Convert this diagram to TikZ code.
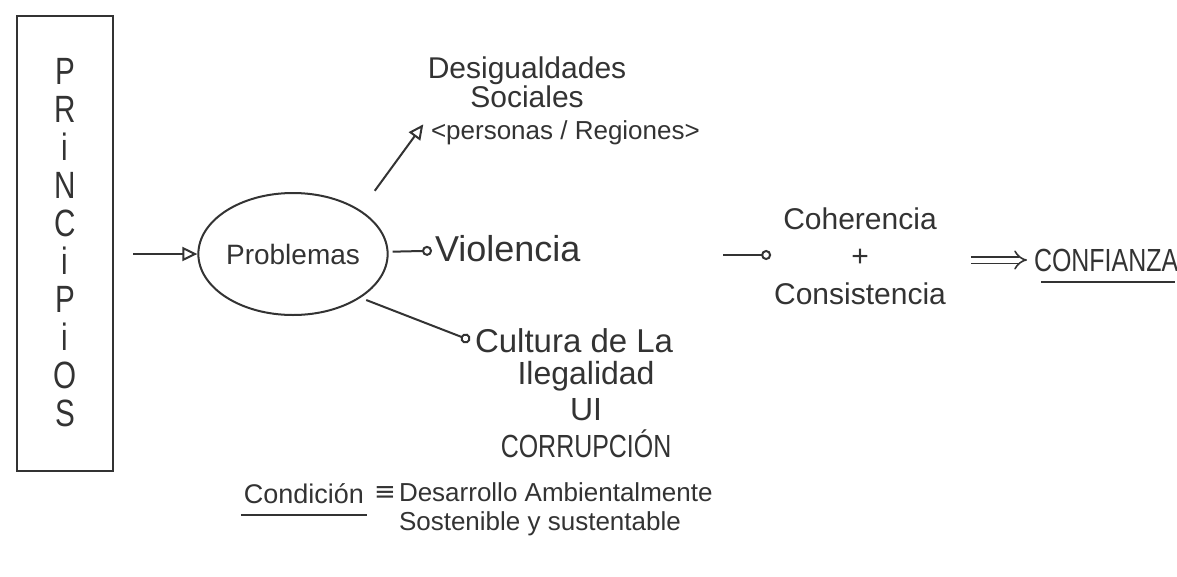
\documentclass[tikz,border=0pt]{standalone}
\usepackage{fontspec}
\setmainfont{Liberation Sans}
\newfontfamily\capsfont[FakeStretch=0.78]{Liberation Sans}
\newfontfamily\symfont{DejaVu Sans}
\usetikzlibrary{arrows.meta,positioning,shapes.geometric}

\begin{document}
\begin{tikzpicture}[
  x=1pt, y=-1pt,
  color=black!80,
  line width=2pt,
  hand/.style={align=center, inner sep=2pt, font=\fontsize{30}{36}\selectfont},
  handS/.style={align=center, inner sep=2pt, font=\fontsize{26}{29}\selectfont},
  caps/.style={align=center, inner sep=2pt, font=\capsfont\fontsize{32}{36}\selectfont},
  tri/.style={-{Triangle[open, length=15pt, width=14pt]}},
  circ/.style={-{Circle[open, length=10pt]}},
  dbl/.style={double, double distance=5pt, line width=1.6pt, -{Implies}}
]
\useasboundingbox (0,0) rectangle (1177,576);

% Nodes
\node[draw, minimum width=96pt, minimum height=455pt, inner sep=0pt, align=center,
      font=\capsfont\fontsize{38}{38}\selectfont] (princ) at (65,243) {P\\R\\i\\N\\C\\i\\P\\i\\O\\S};
\node[draw, ellipse, minimum width=180pt, minimum height=122pt, inner sep=0pt,
      font=\fontsize{28}{32}\selectfont] (prob) at (293,254) {Problemas};

\node[hand, font=\fontsize{30}{29}\selectfont] (desig) at (527,82) {Desigualdades\\Sociales};
\node[handS, anchor=west] (pers) at (428,133) {<personas / Regiones>};
\node[hand, font=\fontsize{36}{40}\selectfont, anchor=west] (viol) at (432,249) {Violencia};
\node[hand, font=\fontsize{33}{36}\selectfont, anchor=west] (cult) at (472,341) {Cultura de La};
\node[hand, font=\fontsize{32}{36.5}\selectfont, below=2pt of cult, xshift=12pt] (ileg)
      {Ilegalidad\\UI\\{\capsfont CORRUPCIÓN}};

\coordinate (cin) at (723,255);
\node[hand, font=\fontsize{30}{37.5}\selectfont] (coh) at (860,256) {Coherencia\\+\\Consistencia};
\node[caps, anchor=west] (conf) at (1031,260) {CONFIANZA};

\node[handS, font=\fontsize{27}{30}\selectfont, anchor=base] (cond) at (304,503) {Condición};
\node[inner sep=2pt, font=\symfont\fontsize{26}{29}\selectfont, right=4pt of cond] (eqv) {≡};
\node[handS, align=left, font=\fontsize{26}{29}\selectfont, anchor=west] (desa) at (396,509)
      {Desarrollo Ambientalmente\\Sostenible y sustentable};

% Arrows
\draw[tri, shorten <=19pt] (princ.east |- prob.west) -- (prob.west);
\draw[tri, shorten <=24pt, shorten >=8pt] (prob.north east) -- (pers.north west);
\draw[circ, shorten <=4pt] (prob) -- (viol);
\draw[circ, shorten <=6pt, shorten >=2pt] (prob.south east) -- (cult.west);
\draw[circ] (cin) -- (coh.west |- cin);
\draw[dbl, shorten <=22pt, shorten >=4pt] (coh.east |- conf.west) -- (conf.west);

% Underlines
\draw ([xshift=10pt, yshift=-8pt]conf.south west) -- ([xshift=-6pt, yshift=-8pt]conf.south east);
\draw ([yshift=-12pt]cond.base west) -- ([yshift=-12pt]cond.base east);

\end{tikzpicture}
\end{document}
